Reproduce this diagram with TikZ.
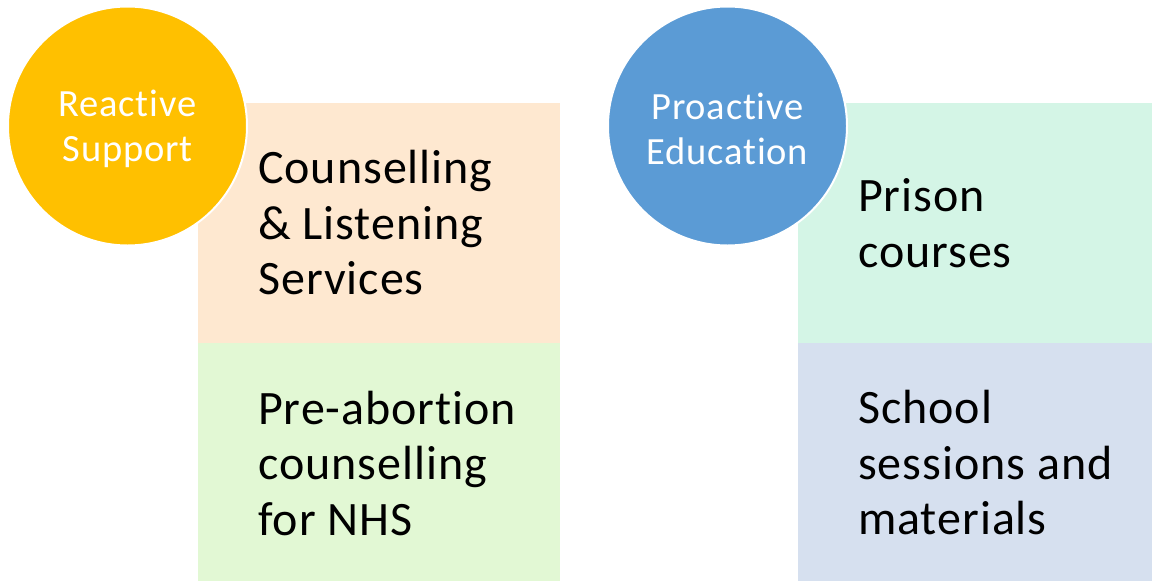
\documentclass[tikz,border=0pt]{standalone}
\usepackage{fontspec}
\setmainfont[Ligatures=NoCommon, LetterSpace=2.0]{Carlito}
\usepackage{xcolor}

\definecolor{peach}{HTML}{FEE8D0}
\definecolor{lightgreen}{HTML}{E2F8D4}
\definecolor{mint}{HTML}{D4F5E6}
\definecolor{paleblue}{HTML}{D6E0EF}
\definecolor{gold}{HTML}{FFC000}
\definecolor{steelblue}{HTML}{5B9BD5}

\tikzset{
    box/.style={rectangle, draw=none, minimum width=362pt, minimum height=240pt, anchor=north west, inner sep=0pt},
    boxtext/.style={anchor=west, align=left, inner sep=0pt, font=\fontsize{48}{55.5}\selectfont},
    bubble/.style={circle, draw=white, line width=2pt, minimum size=239pt, inner sep=0pt},
    bubbletext/.style={align=center, inner sep=0pt, text=white, font=\fontsize{38.5}{45}\selectfont}
}

\begin{document}
\begin{tikzpicture}[x=1pt, y=-1pt]
    \useasboundingbox (0,0) rectangle (1152,581);

    % Left column: the boxes
    \node[box, fill=peach] (counsel) at (198,103) {};
    \node[box, fill=lightgreen, minimum height=238pt] (preab) at (198,343) {};
    \node[boxtext] (counseltext) at (258,223) {Counselling\\\& Listening\\Services};
    \node[boxtext] (preabtext) at (258,463) {Pre-abortion\\counselling\\for NHS};

    % Right column: the boxes
    \node[box, fill=mint, minimum width=354pt] (prison) at (798,103) {};
    \node[box, fill=paleblue, minimum width=354pt, minimum height=238pt] (school) at (798,343) {};
    \node[boxtext] (prisontext) at (858,223) {Prison\\courses};
    \node[boxtext] (schooltext) at (858,463) {School\\sessions and\\materials};

    % The two circles on top
    \node[bubble, fill=gold] (reactive) at (127.5,126) {};
    \node[bubbletext] (reactivetext) at (127.5,129) {Reactive\\Support};
    \node[bubble, fill=steelblue] (proactive) at (727.5,126) {};
    \node[bubbletext] (proactivetext) at (727.5,129) {Proactive\\Education};

\end{tikzpicture}
\end{document}
